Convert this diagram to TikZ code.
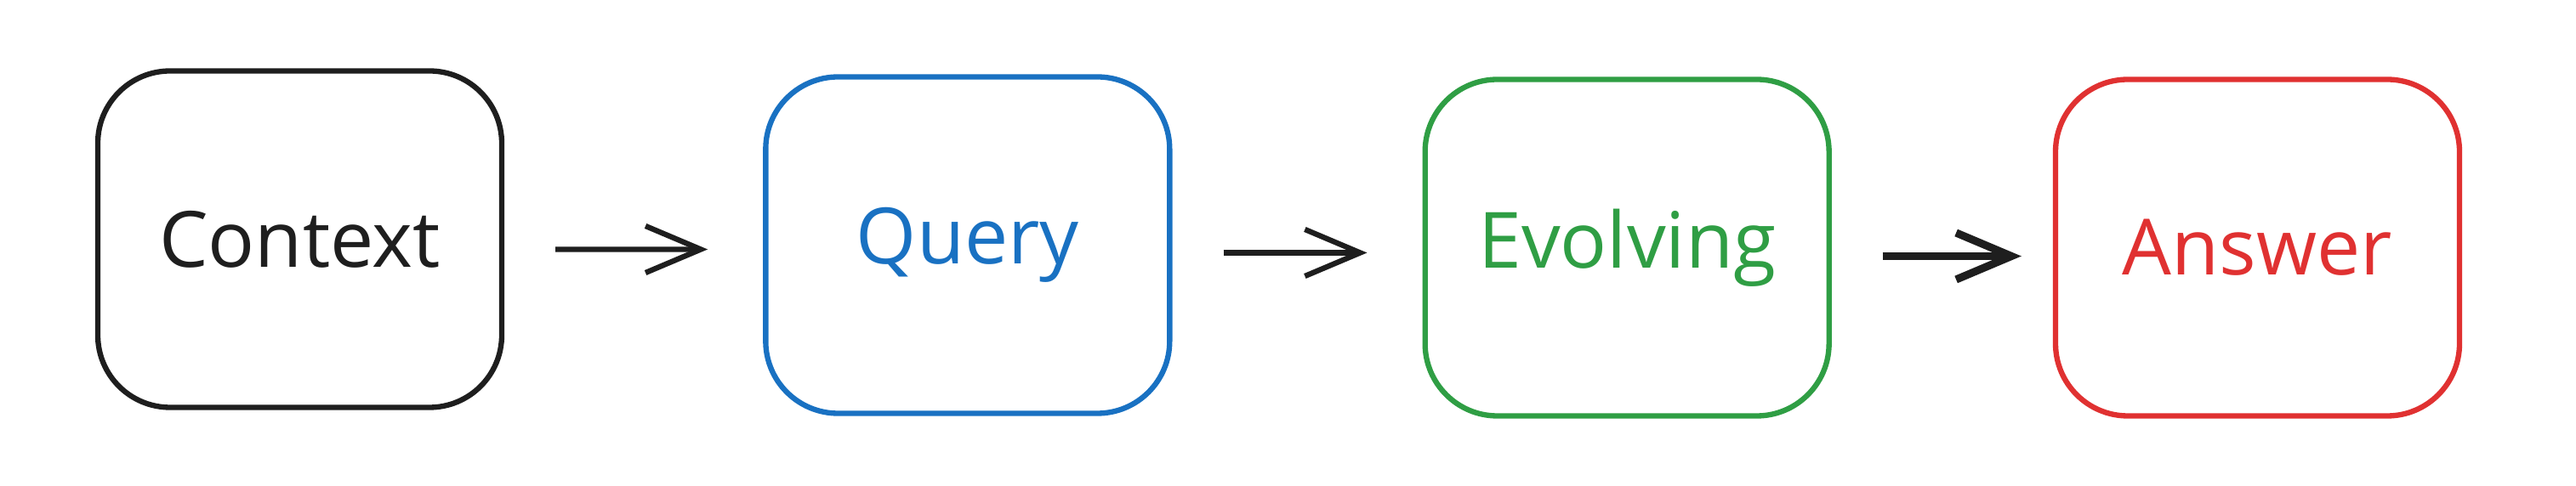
\documentclass[tikz,border=0pt]{standalone}
\usepackage{fontspec}
\setmainfont{Open Sans}
\usetikzlibrary{positioning,arrows.meta}
\definecolor{inkblack}{HTML}{1E1E1E}
\definecolor{inkblue}{HTML}{1971C2}
\definecolor{inkgreen}{HTML}{2F9E44}
\definecolor{inkred}{HTML}{E03131}

\begin{document}
\begin{tikzpicture}[
	card/.style = {draw, rectangle, rounded corners=0.85cm, line width=1.8pt, minimum width=4.75cm, minimum height=3.96cm, font=\fontsize{26}{30}\selectfont},
	flow/.style = {-{Straight Barb[length=6.5mm,width=5.5mm]}, draw=inkblack, line width=1.8pt, shorten <=0.6cm, shorten >=0.65cm},
]
\useasboundingbox (0,0) rectangle (30.29,5.72);

\node[card, draw=inkblack, text=inkblack] (context) at (3.525,2.905) {Context};
\node[card, draw=inkblue, text=inkblue, yshift=-0.07cm] (query) [right=3.04cm of context]{Query};
\node[card, draw=inkgreen, text=inkgreen, yshift=-0.03cm] (evolving) [right=2.94cm of query]{Evolving};
\node[card, draw=inkred, text=inkred] (answer) [right=2.6cm of evolving]{Answer};

\draw[flow]([yshift=-0.12cm]context.east)--([yshift=-0.05cm]query.west);
\draw[flow]([yshift=-0.09cm]query.east)--([yshift=-0.06cm]evolving.west);
\draw[flow, line width=2.6pt, shorten >=0.37cm]([yshift=-0.1cm]evolving.east)--([yshift=-0.1cm]answer.west);

\end{tikzpicture}
\end{document}
